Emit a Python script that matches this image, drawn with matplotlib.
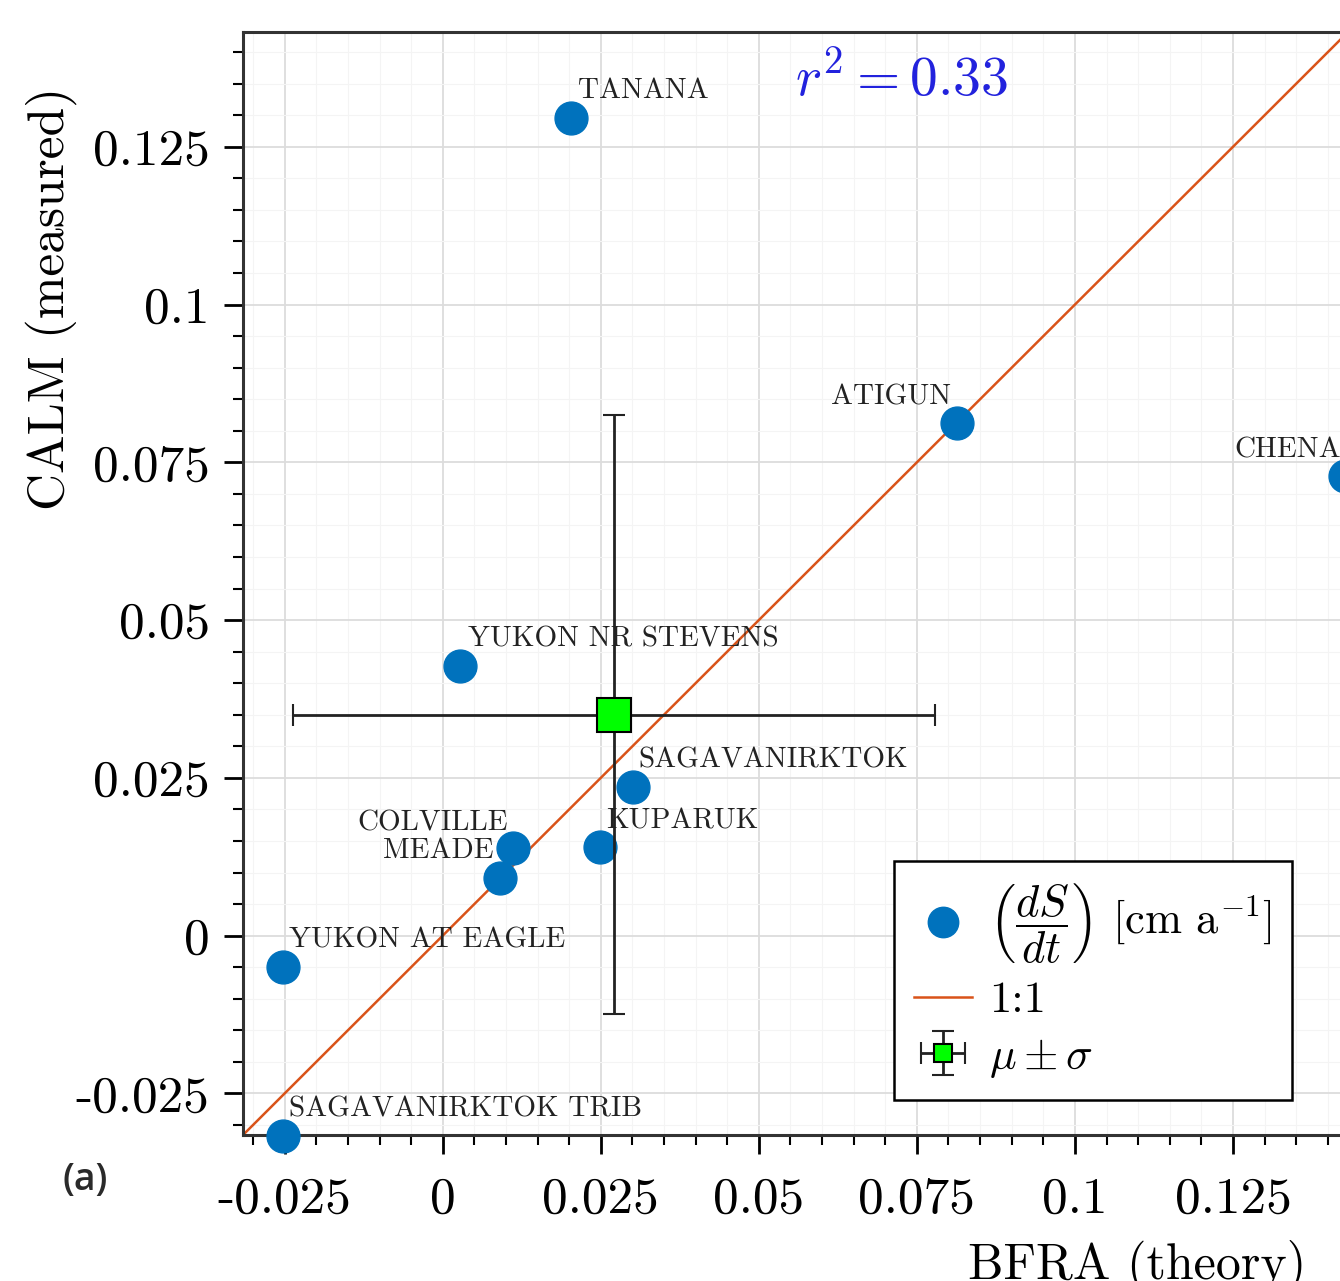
import numpy as np
import matplotlib
matplotlib.use("Agg")
import matplotlib.pyplot as plt
from matplotlib.ticker import FixedLocator, FixedFormatter, MultipleLocator

plt.rcParams['font.family'] = ['cmr10', 'DejaVu Serif']
plt.rcParams['mathtext.fontset'] = 'cm'
plt.rcParams['axes.unicode_minus'] = False

# station data
names = ['TANANA', 'ATIGUN', 'CHENA', 'YUKON NR STEVENS', 'SAGAVANIRKTOK',
         'KUPARUK', 'COLVILLE', 'MEADE', 'YUKON AT EAGLE', 'SAGAVANIRKTOK TRIB']
bfra = [0.0203, 0.0813, 0.1427, 0.0028, 0.0301, 0.0248, 0.0111, 0.0090, -0.0253, -0.0253]
calm = [0.1296, 0.0813, 0.0729, 0.0428, 0.0236, 0.0141, 0.0139, 0.0092, -0.0049, -0.0317]

# label offsets in pixels (dx, dy) and alignment
label_pos = {
    'TANANA': (7, 27, 'left'),
    'ATIGUN': (-6, 25, 'right'),
    'CHENA': (-4, 25, 'right'),
    'YUKON NR STEVENS': (8, 26, 'left'),
    'SAGAVANIRKTOK': (5, 26, 'left'),
    'KUPARUK': (7, 25, 'left'),
    'COLVILLE': (-5, 25, 'right'),
    'MEADE': (-6, 27, 'right'),
    'YUKON AT EAGLE': (6, 26, 'left'),
    'SAGAVANIRKTOK TRIB': (6, 26, 'left'),
}

mean_x, mean_y = 0.0271, 0.0350
std_x, std_y = 0.0508, 0.0475
r2 = 0.33

ticks = [-0.025, 0, 0.025, 0.05, 0.075, 0.1, 0.125]
tick_labels = ['-0.025', '0', '0.025', '0.05', '0.075', '0.1', '0.125']
lim = (-0.0316, 0.1432)

fig = plt.figure(figsize=(13.4, 12.81), dpi=100)
ax = fig.add_axes([243/1340, 146/1281, 1105/1340, 1103/1281])

ax.grid(True, which='major', color='#dcdcdc', lw=1.3, zorder=0)
ax.grid(True, which='minor', color='#f4f4f4', lw=0.8, zorder=0)

ax.plot(lim, lim, color='#D95319', lw=1.8, zorder=2, label='1:1')
ax.scatter(bfra, calm, s=560, color='#0072BD', zorder=3, clip_on=False,
           label=r'$\left(\dfrac{dS}{dt}\right)$ [cm a$^{-1}$]')
ax.errorbar(mean_x, mean_y, xerr=std_x, yerr=std_y, fmt='s', ms=24,
            mfc='#00ff00', mec='black', mew=1.5, ecolor='#222222', elinewidth=2,
            capsize=8, capthick=2, zorder=4, label=r'$\mu \pm \sigma$')

for n, x, y in zip(names, bfra, calm):
    dx, dy, ha = label_pos[n]
    ax.annotate(n, (x, y), xytext=(dx, dy), textcoords='offset pixels',
                ha=ha, va='center', fontsize=21, color='#222222', zorder=5,
                annotation_clip=False)

ax.text(0.0725, 0.1356, r'$r^2 = %.2f$' % r2, color='#2222dd', fontsize=40,
        ha='center', va='center')

ax.set_xlim(lim)
ax.set_ylim(lim)
ax.xaxis.set_major_locator(FixedLocator(ticks))
ax.xaxis.set_major_formatter(FixedFormatter(tick_labels))
ax.yaxis.set_major_locator(FixedLocator(ticks))
ax.yaxis.set_major_formatter(FixedFormatter(tick_labels))
ax.xaxis.set_minor_locator(MultipleLocator(0.005))
ax.yaxis.set_minor_locator(MultipleLocator(0.005))
ax.tick_params(which='major', direction='out', length=14, width=2, labelsize=37, pad=10)
ax.tick_params(axis='x', which='major', pad=16)
ax.tick_params(which='minor', direction='out', length=7, width=1.5)
for s in ax.spines.values():
    s.set_linewidth(2.2)
    s.set_color('#333333')

ax.set_xlabel('BFRA (theory)', fontsize=36)
ax.xaxis.set_label_coords(0.809, -0.095)
ax.set_ylabel('CALM (measured)', fontsize=37)
ax.yaxis.set_label_coords(-0.15, 0.758)

h, l = ax.get_legend_handles_labels()
order = [1, 0, 2]
leg = ax.legend([h[i] for i in order], [l[i] for i in order], loc='lower left',
                bbox_to_anchor=(0.589, 0.032), borderaxespad=0, fontsize=32,
                fancybox=False, framealpha=1, edgecolor='black', handlelength=1.3,
                handletextpad=0.4, borderpad=0.45, labelspacing=0.35,
                markerscale=0.55)
leg.legend_handles[0].set_sizes([480])
leg.get_frame().set_linewidth(1.8)

fig.text(85/1340, 1-1180/1281, '(a)', fontsize=27, fontweight='semibold',
         family='Open Sans', ha='center', va='center', color='#2a2a2a')

fig.savefig('out.png', dpi=100)
